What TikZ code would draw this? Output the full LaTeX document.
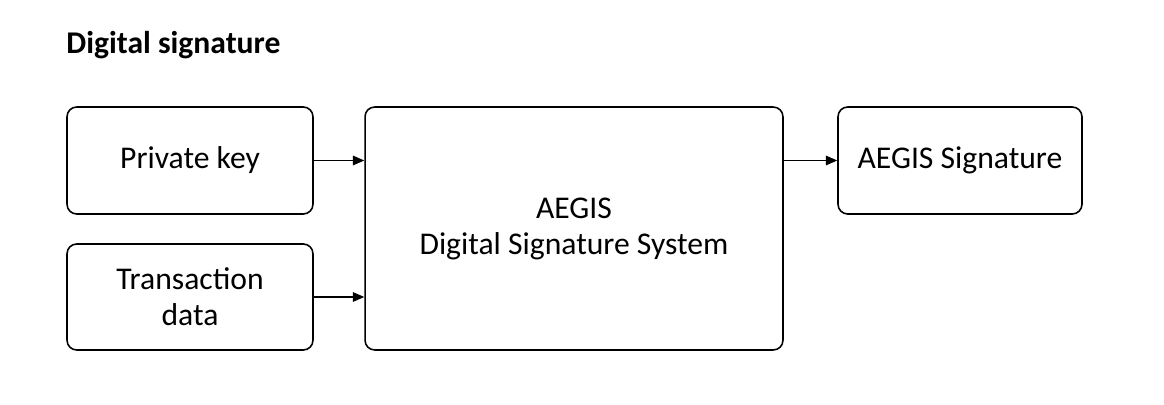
\documentclass[tikz,border=0pt]{standalone}
\usepackage{fontspec}
\setmainfont{Carlito}
\usepackage{tikz}
\usetikzlibrary{arrows.meta}

\begin{document}
\begin{tikzpicture}[
  x=0.02cm, y=-0.02cm,
  box/.style={draw, line width=0.9pt, rounded corners=5.5pt, inner sep=0pt},
  flow/.style={-{Triangle[length=6.5pt,width=5.5pt]}, line width=0.6pt},
  every node/.style={align=center, font=\fontsize{18}{20.5}\selectfont}]

\useasboundingbox (0,0) rectangle (1164,405);

% Title
\node[anchor=base west, inner sep=0pt, font=\fontsize{18}{20.5}\selectfont\bfseries] (title) at (66,54) {Digital signature};

% Position the nodes at fixed coordinates
\node[box, minimum width=4.92cm, minimum height=2.14cm] (privateKey) at (190,160.5) {Private key};
\node[box, minimum width=4.92cm, minimum height=2.12cm] (transactionData) at (190,297) {Transaction\\data};
\node[box, minimum width=8.36cm, minimum height=4.86cm] (signatureSystem) at (574,228.5) {AEGIS\\Digital Signature System};
\node[box, minimum width=4.88cm, minimum height=2.14cm] (aegisSignature) at (960,160.5) {AEGIS Signature};

% Draw the arrows between the nodes
\draw [flow] (privateKey.east) -- (signatureSystem.west |- privateKey.east);
\draw [flow] (transactionData.east) -- (signatureSystem.west |- transactionData.east);
\draw [flow] (signatureSystem.east |- aegisSignature.west) -- (aegisSignature.west);

\end{tikzpicture}
\end{document}
